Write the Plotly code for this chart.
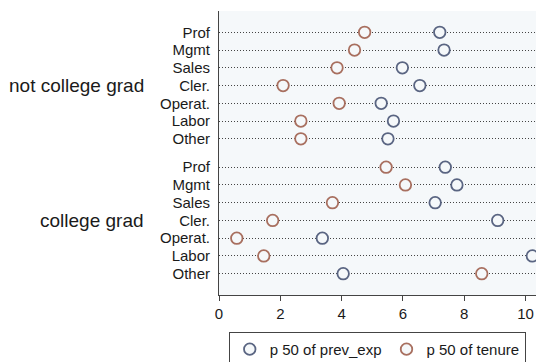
import plotly.graph_objects as go

groups = ["not college grad", "college grad"]
occupations = ["Prof", "Mgmt", "Sales", "Cler.", "Operat.", "Labor", "Other"]
prev_exp = {
    "not college grad": [7.20, 7.34, 5.98, 6.55, 5.29, 5.69, 5.51],
    "college grad": [7.38, 7.76, 7.05, 9.09, 3.37, 10.22, 4.05],
}
tenure = {
    "not college grad": [4.75, 4.42, 3.85, 2.09, 3.92, 2.67, 2.67],
    "college grad": [5.45, 6.08, 3.70, 1.75, 0.58, 1.46, 8.57],
}
x_ticks = [0, 2, 4, 6, 8, 10]

GROUP_STEP = 7.6
ypos, ylab = [], []
for g_i, g in enumerate(groups):
    for o_i, o in enumerate(occupations):
        ypos.append(g_i * GROUP_STEP + o_i)
        ylab.append(o)

FONT = "Liberation Sans, Arial, sans-serif"
BG = "#f5f8fa"
NAVY = "#5a6582"
MAROON = "#a86f5f"
TXT = "#1a1a1a"

fig = go.Figure()
xs_prev = [v for g in groups for v in prev_exp[g]]
xs_ten = [v for g in groups for v in tenure[g]]
fig.add_trace(go.Scatter(
    x=xs_prev, y=ypos, mode="markers", name="p 50 of prev_exp",
    marker=dict(symbol="circle", size=11.5, color=BG, line=dict(color=NAVY, width=1.8)),
    cliponaxis=False,
))
fig.add_trace(go.Scatter(
    x=xs_ten, y=ypos, mode="markers", name="p 50 of tenure",
    marker=dict(symbol="circle", size=11.5, color=BG, line=dict(color=MAROON, width=1.8)),
    cliponaxis=False,
))

for g_i, g in enumerate(groups):
    fig.add_annotation(
        x=-0.2246, xref="paper", y=g_i * GROUP_STEP + 3, yref="y",
        text=g, showarrow=False, xanchor="right", yanchor="middle",
        font=dict(family=FONT, size=19, color=TXT),
    )

fig.update_layout(
    width=536, height=354,
    margin=dict(l=211, r=0, t=3, b=67, autoexpand=False),
    paper_bgcolor="white", plot_bgcolor=BG,
    font=dict(family=FONT, size=15, color=TXT),
    showlegend=True,
    legend=dict(
        orientation="h", x=0.03, y=-0.13, xanchor="left", yanchor="top",
        bordercolor="#444", borderwidth=1, bgcolor="white",
        font=dict(family=FONT, size=15, color=TXT),
    ),
)
fig.update_xaxes(
    range=[0, 10.6], tickvals=x_ticks, ticks="outside", ticklen=5, tickcolor="#444",
    showline=True, linecolor="#444", linewidth=1, showgrid=False, zeroline=False,
    tickfont=dict(family=FONT, size=15, color=TXT), fixedrange=True,
)
fig.update_yaxes(
    range=[14.8, -1.2], tickvals=ypos, ticktext=ylab, ticks="",
    showline=True, linecolor="#444", linewidth=1,
    showgrid=True, gridcolor="#444", gridwidth=1, griddash="1px,2px",
    zeroline=False, ticklabelstandoff=5,
    tickfont=dict(family=FONT, size=15, color=TXT),
)

fig.write_html("out.html")
